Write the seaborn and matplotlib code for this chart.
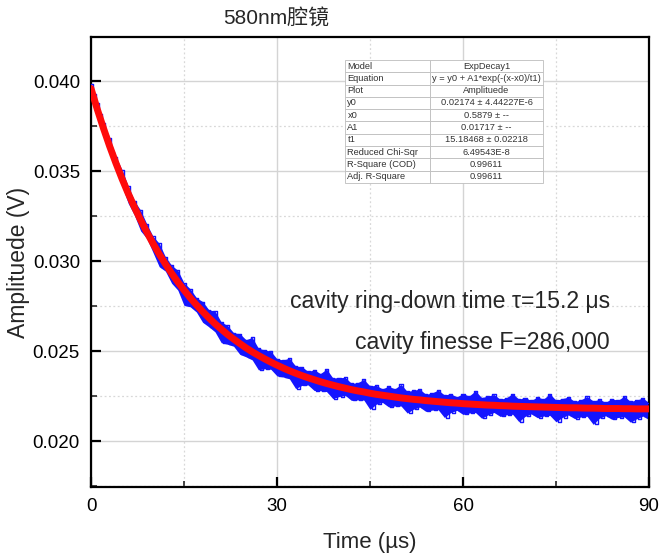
import matplotlib
matplotlib.use("Agg")
import matplotlib.pyplot as plt
import numpy as np
import seaborn as sns
from matplotlib.ticker import MultipleLocator, FormatStrFormatter

# ---------------------------------------------------------
# DATA (amplitudes in mV)
# ---------------------------------------------------------
time_us = list(range(0, 91))

# upper / lower edge of the noisy measured trace
trace_hi_mV = [
    39.84, 38.80, 37.69, 36.84, 35.81, 35.08, 34.16, 33.35, 32.83, 32.06,
    31.38, 30.99, 30.24, 29.77, 29.49, 28.79, 28.46, 27.97, 27.75, 27.30,
    27.22, 26.62, 26.43, 26.02, 25.97, 25.63, 25.76, 25.16, 25.07, 24.99,
    24.57, 24.51, 24.61, 24.17, 24.14, 23.87, 23.96, 23.75, 24.00, 23.51,
    23.52, 23.54, 23.21, 23.24, 23.43, 23.06, 23.10, 22.90, 23.05, 22.90,
    23.15, 22.76, 22.82, 22.89, 22.60, 22.67, 22.84, 22.56, 22.63, 22.46,
    22.63, 22.51, 22.79, 22.42, 22.50, 22.59, 22.32, 22.41, 22.64, 22.33,
    22.42, 22.26, 22.45, 22.34, 22.63, 22.27, 22.36, 22.45, 22.20, 22.29,
    22.48, 22.23, 22.32, 22.16, 22.36, 22.26, 22.50, 22.20, 22.29, 22.39,
    22.14,
]
trace_lo_mV = [
    39.29, 38.15, 36.99, 36.04, 35.01, 34.18, 33.21, 32.55, 31.68, 31.26,
    30.48, 29.69, 29.44, 28.77, 28.39, 27.54, 27.46, 27.17, 26.60, 26.35,
    26.07, 25.47, 25.38, 25.27, 24.82, 24.68, 24.51, 23.96, 24.02, 23.99,
    23.62, 23.56, 23.46, 22.92, 23.09, 23.12, 22.81, 22.80, 22.75, 22.36,
    22.47, 22.54, 22.26, 22.29, 22.28, 21.76, 22.05, 22.15, 21.90, 21.95,
    21.95, 21.56, 21.77, 21.89, 21.65, 21.72, 21.74, 21.31, 21.58, 21.71,
    21.48, 21.56, 21.59, 21.27, 21.45, 21.59, 21.37, 21.46, 21.49, 21.08,
    21.37, 21.51, 21.30, 21.39, 21.43, 21.07, 21.31, 21.45, 21.25, 21.34,
    21.38, 20.93, 21.27, 21.41, 21.21, 21.31, 21.35, 21.05, 21.24, 21.39,
    21.19,
]

# ExpDecay1 fit curve
fit_mV = [
    39.59, 38.45, 37.39, 36.39, 35.46, 34.58, 33.76, 33.00, 32.28, 31.61,
    30.98, 30.39, 29.84, 29.32, 28.84, 28.39, 27.96, 27.57, 27.20, 26.85,
    26.52, 26.22, 25.93, 25.67, 25.42, 25.18, 24.96, 24.76, 24.57, 24.39,
    24.22, 24.06, 23.91, 23.77, 23.64, 23.52, 23.41, 23.30, 23.20, 23.11,
    23.02, 22.94, 22.86, 22.79, 22.73, 22.66, 22.60, 22.55, 22.50, 22.45,
    22.40, 22.36, 22.32, 22.29, 22.25, 22.22, 22.19, 22.16, 22.13, 22.11,
    22.08, 22.06, 22.04, 22.02, 22.00, 21.99, 21.97, 21.96, 21.94, 21.93,
    21.92, 21.91, 21.90, 21.89, 21.88, 21.87, 21.86, 21.85, 21.85, 21.84,
    21.83, 21.83, 21.82, 21.81, 21.81, 21.81, 21.80, 21.80, 21.79, 21.79,
    21.79,
]

table_rows = [
    ["Model", "ExpDecay1"],
    ["Equation", "y = y0 + A1*exp(-(x-x0)/t1)"],
    ["Plot", "Amplituede"],
    ["y0", "0.02174 ± 4.44227E-6"],
    ["x0", "0.5879 ± --"],
    ["A1", "0.01717 ± --"],
    ["t1", "15.18468 ± 0.02218"],
    ["Reduced Chi-Sqr", "6.49543E-8"],
    ["R-Square (COD)", "0.99611"],
    ["Adj. R-Square", "0.99611"],
]

# ---------------------------------------------------------
# STYLE
# ---------------------------------------------------------
sns.set_theme(style="ticks")
plt.rcParams["font.family"] = ["Liberation Sans", "Noto Sans CJK SC", "DejaVu Sans"]
plt.rcParams["axes.unicode_minus"] = False

t = np.array(time_us, dtype=float)
hi = np.array(trace_hi_mV) / 1000.0
lo = np.array(trace_lo_mV) / 1000.0
fit = np.array(fit_mV) / 1000.0

# alternate the measured trace between its upper and lower edges
zz_t = np.empty(2 * len(t))
zz_t[0::2] = t
zz_t[1::2] = t + 0.5
zz_y = np.empty(2 * len(t))
zz_y[0::2] = hi
zz_y[1::2] = lo
keep = zz_t <= 90

fig, ax = plt.subplots(figsize=(6.59, 5.57), dpi=100)
fig.subplots_adjust(left=91 / 659, right=649 / 659, top=1 - 37 / 557, bottom=1 - 487 / 557)

# dense noise band with spiky edges
ax.fill_between(t, lo, hi, color="#1414ff", linewidth=0, zorder=2)
sns.lineplot(x=zz_t[keep], y=zz_y[keep], color="#1414ff", linewidth=1.0,
             sort=False, drawstyle="steps-mid", ax=ax, zorder=3)
sns.lineplot(x=t, y=fit, color="#ff0a0a", linewidth=5, ax=ax, zorder=4)

ax.set_xlim(0, 90)
ax.set_ylim(0.01745, 0.04245)
ax.xaxis.set_major_locator(MultipleLocator(30))
ax.xaxis.set_minor_locator(MultipleLocator(15))
ax.yaxis.set_major_locator(MultipleLocator(0.005))
ax.yaxis.set_minor_locator(MultipleLocator(0.0025))
ax.yaxis.set_major_formatter(FormatStrFormatter("%.3f"))

ax.grid(which="major", color="#d4d4d4", linewidth=1.0, linestyle="-", zorder=0)
ax.grid(which="minor", color="#d8d8d8", linewidth=0.9, linestyle=(0, (1.5, 2)), zorder=0)
ax.set_axisbelow(True)

for side in ["left", "bottom", "top", "right"]:
    ax.spines[side].set_visible(True)
    ax.spines[side].set_color("black")
    ax.spines[side].set_linewidth(1.6)

ax.tick_params(which="major", direction="in", length=7, width=1.6,
               labelsize=13.5, colors="black", pad=8)
ax.tick_params(which="minor", direction="in", length=4, width=1.2)
ax.tick_params(top=False, right=False, which="both")

ax.set_xlabel("Time (µs)", fontsize=16, labelpad=12)
ax.set_ylabel("Amplituede (V)", fontsize=16.5, labelpad=2)

fig.text(276 / 659, 1 - 18 / 557, "580nm腔镜", fontsize=15,
         ha="center", va="center")

ax.text(83.7, 0.02775, "cavity ring-down time τ=15.2 μs", fontsize=16.6,
        ha="right", va="center", zorder=6)
ax.text(83.7, 0.02545, "cavity finesse F=286,000", fontsize=16.6,
        ha="right", va="center", zorder=6)

tbl = ax.table(cellText=table_rows, colWidths=[0.43, 0.57],
               bbox=[0.455, 0.676, 0.355, 0.273], zorder=7)
tbl.auto_set_font_size(False)
tbl.set_fontsize(6.7)
for (r, c), cell in tbl.get_celld().items():
    cell.set_edgecolor("#bdbdbd")
    cell.set_linewidth(0.6)
    cell.set_facecolor("white")
    cell.PAD = 0.03
    cell.get_text().set_color("#333333")
    cell.get_text().set_ha("left" if c == 0 else "center")

fig.savefig("out.png", dpi=100)
